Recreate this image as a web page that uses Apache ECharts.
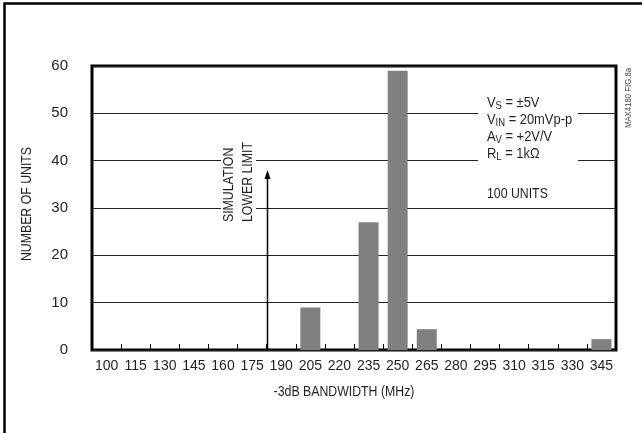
<!DOCTYPE html>
<html>
<head>
<meta charset="utf-8">
<script src="https://cdn.jsdelivr.net/npm/echarts@6/dist/echarts.min.js"></script>
<style>
  html, body { margin: 0; padding: 0; background: #fff; }
  #chart { width: 642px; height: 433px; }
</style>
</head>
<body>
<div id="chart"></div>
<script>
// bandwidth bins (MHz) and unit counts
var bins = ['100', '115', '130', '145', '160', '175', '190', '205', '220',
  '235', '250', '265', '280', '295', '310', '315', '330', '345'];
var units = [0, 0, 0, 0, 0, 0, 0, 9, 0, 27, 59, 4.4, 0, 0, 0, 0, 0, 2.3];
var yTicks = [0, 60, 10]; // min, max, step

var FONT = "'Liberation Sans', Arial, sans-serif";
var INK = '#231f20';
var NARROW = 0.82; // the original uses a narrow helvetica

var chart = echarts.init(document.getElementById('chart'));

chart.setOption({
  animation: false,
  backgroundColor: '#fff',
  grid: {
    left: 92,
    right: 26,
    top: 66,
    bottom: 83,
    show: true,
    borderColor: '#000',
    borderWidth: 3,
    backgroundColor: 'transparent'
  },
  xAxis: {
    type: 'category',
    data: bins,
    boundaryGap: true,
    axisLine: { show: false },
    axisTick: { show: true, inside: true, length: 6, lineStyle: { color: '#000', width: 1 } },
    axisLabel: { fontFamily: FONT, fontSize: 14, color: INK, margin: 9, interval: 0 },
    splitLine: { show: false }
  },
  yAxis: {
    type: 'value',
    min: yTicks[0],
    max: yTicks[1],
    interval: yTicks[2],
    axisLine: { show: false },
    axisTick: { show: false },
    axisLabel: { fontFamily: FONT, fontSize: 15, color: INK, margin: 24 },
    splitLine: { show: true, lineStyle: { color: '#222', width: 1 } }
  },
  series: [{
    type: 'bar',
    data: units,
    barWidth: 20,
    itemStyle: { color: '#808080' },
    z: 3
  }],
  graphic: [
    // outer frame (left and top edges)
    {
      type: 'polyline', z: 100,
      shape: { points: [[4.5, 433], [4.5, 3.5], [642, 3.5]] },
      style: { stroke: '#000', lineWidth: 2.5, fill: null }
    },
    // axis titles
    {
      type: 'text', z: 101,
      x: 344, y: 392, scaleX: NARROW,
      style: {
        text: '-3dB BANDWIDTH (MHz)', fontFamily: FONT, fontSize: 15,
        fill: INK, align: 'center', verticalAlign: 'middle'
      }
    },
    {
      type: 'text', z: 101,
      x: 27, y: 204, rotation: Math.PI / 2, scaleX: NARROW,
      style: {
        text: 'NUMBER OF UNITS', fontFamily: FONT, fontSize: 15,
        fill: INK, align: 'center', verticalAlign: 'middle'
      }
    },
    // simulation lower limit arrow
    {
      type: 'line', z: 100,
      shape: { x1: 267.5, y1: 349, x2: 267.5, y2: 177 },
      style: { stroke: '#000', lineWidth: 1.5 }
    },
    {
      type: 'polygon', z: 100,
      shape: { points: [[267.5, 170], [264.5, 179], [270.5, 179]] },
      style: { fill: '#000' }
    },
    {
      type: 'rect', z: 100,
      shape: { x: 221, y: 143, width: 35, height: 81 },
      style: { fill: '#fff' }
    },
    {
      type: 'text', z: 101,
      x: 238, y: 222, rotation: Math.PI / 2, scaleX: NARROW,
      style: {
        text: 'SIMULATION\nLOWER LIMIT',
        fontFamily: FONT, fontSize: 15, lineHeight: 19,
        fill: INK, align: 'left', verticalAlign: 'middle'
      }
    },
    // test conditions
    {
      type: 'rect', z: 100,
      shape: { x: 478, y: 94, width: 100, height: 68 },
      style: { fill: '#fff' }
    },
    {
      type: 'text', z: 101,
      x: 487, y: 94, scaleX: 0.86,
      style: {
        text: '{b|V}{s|S}{b| = ±5V}\n{b|V}{s|IN}{b| = 20mVp-p}\n{b|A}{s|V}{b| = +2V/V}\n{b|R}{s|L}{b| = 1kΩ}',
        align: 'left', verticalAlign: 'top',
        fontFamily: FONT, fontSize: 15, fill: INK,
        rich: {
          b: { fontFamily: FONT, fontSize: 15, lineHeight: 17, fill: INK },
          s: { fontFamily: FONT, fontSize: 11, lineHeight: 10, verticalAlign: 'bottom', fill: INK }
        }
      }
    },
    {
      type: 'text', z: 101,
      x: 487, y: 194, scaleX: NARROW,
      style: {
        text: '100 UNITS', fontFamily: FONT, fontSize: 15,
        fill: INK, align: 'left', verticalAlign: 'middle'
      }
    },
    {
      type: 'text', z: 101,
      x: 628, y: 98, rotation: Math.PI / 2, scaleX: NARROW,
      style: {
        text: 'MAX4180 FIG.8a', fontFamily: FONT, fontSize: 9.5,
        fill: '#444', align: 'center', verticalAlign: 'middle'
      }
    }
  ]
});
</script>
</body>
</html>
